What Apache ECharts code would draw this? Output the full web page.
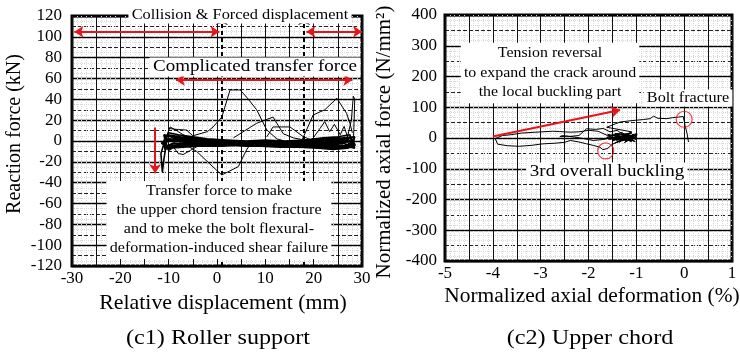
<!DOCTYPE html>
<html>
<head>
<meta charset="utf-8">
<script src="https://cdn.jsdelivr.net/npm/echarts@6/dist/echarts.min.js"></script>
<style>
html,body{margin:0;padding:0;background:#fff}
#chart{width:740px;height:352px}
</style>
</head>
<body>
<div id="chart"></div>
<script>
// (c1) roller support : relative displacement (mm) vs reaction force (kN)
var c1Cycles = [
  [-11,3],[-9,1],[-6,0],[-3,-1],[0,-2],[4,-2],[8,-3],[12,-3],[16,-3],[20,-4],[24,-4],[27,-5],[28,-3],
  [27,2],[24,1],[20,-1],[16,0],[12,-1],[8,-1],[4,0],[0,0],[-3,1],[-6,2],[-9,4],[-11,6],
  [-10.5,-4],[-8,-5],[-5,-4],[-2,-4],[2,-4],[6,-5],[10,-5],[14,-5],[18,-5],[22,-6],[25,-7],[28,-6],
  [28.5,4],[26,3],[23,2],[19,0],[15,-1],[11,-2],[7,-2],[3,-1],[-1,-1],[-4,0],[-7,1],[-10,2],[-11.5,-2],
  [-10,-7],[-7,-6],[-4,-5],[0,-3],[5,-3],[9,-4],[13,-4],[17,-4],[21,-5],[25,-6],[28,-4],
  [27.5,6],[25,4],[22,3],[18,1],[14,0],[10,1],[6,0],[2,1],[-2,2],[-5,4],[-8,6],[-10,8],[-11,0],
  [-10,-9],[-8,-3],[-5,-2],[-1,-2],[3,-3],[7,-3],[11,-3],[15,-3],[19,-3],[23,-3],[26,-4],[28.5,-7],
  [28,0],[25,-1],[21,-2],[17,-2],[13,-2],[9,-2],[5,-1],[1,-1],[-3,-1],[-6,-1],[-9,0],[-11,1],
  [-10.5,-5],[-9,-2],[-6,-3],[-2,-3],[3,-2],[8,-2],[13,-1],[18,-2],[22,-2],[26,-2],[28,-5],
  [27,-1],[24,-3],[20,-3],[16,-4],[12,-4],[8,-4],[4,-4],[0,-4],[-4,-3],[-7,-4],[-10,-6],[-11.2,-3],
  [-10.6,5],[-8,3],[-5,1],[-2,0],[2,-1],[6,-1],[10,-2],[14,-2],[18,-3],[22,-4],[26,-5],[28.3,-2],
  [27.8,3],[25,2],[21,0],[17,-1],[13,-3],[9,-3],[5,-2],[1,-2],[-2,-1],[-5,0],[-8,2],[-10.4,5],
  [-10.8,-8],[-9,-6],[-6,-5],[-3,-5],[1,-5],[5,-4],[9,-5],[13,-6],[17,-6],[21,-7],[24,-8],[27,-7],[28.6,-4],
  [28,1],[25,0],[22,-1],[19,-1],[15,-2],[11,-1],[7,0],[3,0],[-1,0],[-4,-2],[-7,-2],[-9.5,-4],[-11,-6],
  [-10.2,6],[-7.5,4],[-4.5,2],[-1.5,1],[2.5,0],[6.5,-2],[10.5,-3],[14.5,-4],[18.5,-4],[22.5,-5],[26.5,-6],[28.4,1]
];
var c1Peak = [[-10,12],[-8,11],[-6.3,10.5],[-5,5],[-2,9],[-0.8,13.5],[1,23],[2.7,49],[4.8,49],[6.5,40],[8.2,30],[10.3,10.6],[12.4,2],[14,0]];
var c1Trough = [[-9,-2],[-6,-5],[-4.2,-10],[-1.5,-22],[1,-32.6],[4.4,-24.6],[6.1,-8.6],[7.5,1]];
var c1LeftBumps = [[-10.5,4],[-9.7,13.5],[-8,9],[-7,6],[-6,4],[-9,-6],[-8,-12],[-7,-13],[-5.5,-9],[-4,-5],[-2,-3]];
var c1MidA = [[3.4,3],[8.2,17],[11.6,23],[13.7,7],[15.8,3],[18,1]];
var c1MidB = [[10.3,4],[11.6,13.5],[15.1,13.5],[17.9,4],[19,2]];
var c1RightA = [[17.5,0],[19.9,25],[22.3,30],[24.8,41],[26.8,26.6],[27.5,17],[28,8]];
var c1RightB = [[19,-3],[21.3,12],[22.3,18.6],[23.3,9],[24.3,16],[25.5,6],[26.3,14],[27,4],[27.8,20],[28.2,43],[28.5,40],[28.3,10],[28.2,-3]];
var c1Drop = [[-10.8,0],[-11.6,-12],[-11.3,-30],[-11,-18],[-10.6,-6],[-10.3,2]];
var c1DashX = [1, 18];
var c1ArrowTop = [[-29.5,105],[0.5,105]];
var c1ArrowTopRight = [[18.5,105],[30,105]];
var c1ArrowMid = [[-8.5,58.5],[28,58.5]];
var c1ArrowDown = [[-12.8,13],[-12.8,-31]];

// (c2) upper chord : normalized axial deformation (%) vs normalized axial force (N/mm2)
var c2Path = [
  [-1.3,5],[-1.1,15],[-1.0,-5],[-1.2,10],[-1.05,-10],[-1.3,12],[-1.0,0],[-1.4,-12],[-1.1,18],[-1.5,-5],[-1.2,14],[-1.6,8],
  [-1.8,22],[-2.0,25],[-2.2,20],[-2.4,19],[-2.6,21],[-2.75,22],[-3.1,19],[-3.4,16],[-3.6,11],[-3.8,8],[-3.95,-2],[-3.97,-6],
  [-3.9,-20],[-3.7,-25],[-3.45,-27],[-3.2,-24],[-2.95,-19],[-2.7,-17],[-2.5,-14],[-2.38,-8],[-2.2,-13],[-2.04,-19],[-1.9,-24],[-1.76,-30],[-1.7,-38],[-1.6,-34],[-1.5,-20],
  [-1.3,-8],[-1.05,12],[-1.25,-15],[-1.0,6],[-1.45,15],[-1.1,-12],[-1.35,4],[-1.0,-3],[-1.5,10],[-1.2,-10],[-1.0,14],[-1.4,-6],[-1.15,8],[-1.55,-2],[-1.05,-8],
  [-1.6,12],[-1.35,-14],[-1.15,16],[-1.5,-10],[-1.25,6],[-1.58,-4],[-0.98,10],[-1.45,-16],[-1.1,4],[-1.62,2],[-1.3,18],[-1.02,-12],[-1.4,8],[-1.2,-4],
  [-1.5,2],[-1.7,-5],[-1.9,-8],[-2.1,-2],[-2.3,3],[-2.45,6],[-2.6,4],[-2.55,8],[-2.4,5],[-2.2,8],[-2.04,30],[-1.85,28],[-1.69,31],[-1.55,20],[-1.4,25],[-1.25,8],[-1.1,20],
  [-1.62,35],[-1.34,52],[-1.07,57],[-0.85,60],[-0.71,63],[-0.64,71],[-0.55,64],[-0.36,63],[-0.25,66],[-0.12,68],[-0.02,70],[0.02,40],[0.06,15],[0.09,-13]
];
var c2Circles = [[0,61],[-1.64,-42]];
var c2Arrow = [[-4,5],[-1.34,91]];

var serif = 'Liberation Serif';
var red = '#e8141a';

function xAx(grid, min, max, step) {
  return {
    type: 'value', gridIndex: grid, min: min, max: max, interval: step,
    axisLine: {show: false}, axisTick: {show: false},
    axisLabel: {
      color: '#000', fontFamily: serif, fontSize: 17, margin: 4,
      formatter: function (v) {
        return Math.abs(v / (step * 2) - Math.round(v / (step * 2))) < 1e-6 ? String(v) : '';
      }
    },
    splitLine: {show: true, lineStyle: {color: '#111', width: 1}},
    minorTick: {show: false, splitNumber: 5},
    minorSplitLine: {show: true, lineStyle: {color: '#d9d9d9', width: 1, type: 'dotted'}}
  };
}
function yDash(grid, min, max, step, minorN) {
  return {
    type: 'value', gridIndex: grid, position: 'left', min: min, max: max, interval: step,
    axisLine: {show: false}, axisTick: {show: false}, axisLabel: {show: false},
    splitLine: {show: true, lineStyle: {color: '#222', width: 1, type: [4, 2]}},
    minorTick: {show: false, splitNumber: minorN},
    minorSplitLine: {show: true, lineStyle: {color: '#d9d9d9', width: 1, type: 'dotted'}}
  };
}
function yMain(grid, min, max, step, gap) {
  return {
    type: 'value', gridIndex: grid, position: 'left', min: min, max: max, interval: step,
    axisLine: {show: false}, axisTick: {show: false},
    axisLabel: {color: '#000', fontFamily: serif, fontSize: 17, margin: gap},
    splitLine: {show: true, lineStyle: {color: '#000', width: 1.3}}
  };
}
function line(data, xi, yi, w) {
  return {
    type: 'line', xAxisIndex: xi, yAxisIndex: yi, data: data, showSymbol: false,
    lineStyle: {color: '#000', width: w || 1}, z: 3
  };
}
function seg(p, head, tail) {
  return [
    {coord: p[0], symbol: head, lineStyle: {color: red, width: 2, type: 'solid'}},
    {coord: p[1], symbol: tail}
  ];
}
function txt(x, y, s, size, sx, box, lh) {
  var st = {
    text: s, fontFamily: serif, fontSize: size, fill: '#000',
    align: 'center', verticalAlign: 'middle'
  };
  if (lh) st.lineHeight = lh;
  if (box) { st.backgroundColor = '#fff'; st.padding = [1, 3]; }
  return {type: 'text', x: x, y: y, scaleX: sx, z: 100, style: st};
}
function vtxt(x, y, s, size) {
  return {type: 'text', x: x, y: y, rotation: Math.PI / 2, z: 100,
    style: {text: s, fontFamily: serif, fontSize: size, fill: '#000', align: 'center', verticalAlign: 'middle'}};
}

var chart = echarts.init(document.getElementById('chart'));
var cycles = line(c1Cycles, 0, 1, 1.6);
cycles.markLine = {
  silent: true, symbolSize: 9, label: {show: false},
  lineStyle: {color: '#000', width: 2, type: [4, 3]},
  data: [
    {xAxis: c1DashX[0], symbol: 'none'},
    {xAxis: c1DashX[1], symbol: 'none'},
    seg(c1ArrowTop, 'arrow', 'arrow'),
    seg(c1ArrowTopRight, 'arrow', 'arrow'),
    seg(c1ArrowMid, 'arrow', 'arrow'),
    seg(c1ArrowDown, 'none', 'arrow')
  ]
};
var upper = line(c2Path, 1, 3, 1);
upper.markLine = {
  silent: true, symbolSize: 9, label: {show: false},
  data: [seg(c2Arrow, 'none', 'arrow')]
};

chart.setOption({
  animation: false,
  grid: [
    {left: 72, top: 16, width: 290, height: 250, show: true, borderColor: '#000', borderWidth: 3, backgroundColor: '#fff'},
    {left: 445, top: 15, width: 287, height: 246, show: true, borderColor: '#000', borderWidth: 3, backgroundColor: '#fff'}
  ],
  xAxis: [xAx(0, -30, 30, 5), xAx(1, -5, 1, 0.5)],
  yAxis: [
    yDash(0, -120, 120, 10, 2), yMain(0, -120, 120, 20, 10),
    yDash(1, -400, 400, 50, 3), yMain(1, -400, 400, 100, 8)
  ],
  series: [
    cycles,
    line(c1Peak, 0, 1), line(c1Trough, 0, 1), line(c1LeftBumps, 0, 1),
    line(c1MidA, 0, 1), line(c1MidB, 0, 1), line(c1RightA, 0, 1),
    line(c1RightB, 0, 1), line(c1Drop, 0, 1, 1.6),
    upper,
    {
      type: 'scatter', xAxisIndex: 1, yAxisIndex: 3, data: c2Circles,
      symbol: 'circle', symbolSize: 16, z: 4,
      itemStyle: {color: 'rgba(0,0,0,0)', borderColor: red, borderWidth: 1.2}
    }
  ],
  graphic: [
    txt(240, 15, 'Collision & Forced displacement', 15, 1.09, true),
    txt(255, 67, 'Complicated transfer force', 17, 1.12, true),
    txt(219, 220, 'Transfer force to make\nthe upper chord tension fracture\nand to meke the bolt flexural-\ndeformation-induced shear failure', 15, 1.07, true, 19),
    txt(550, 73, 'Tension reversal\nto expand the crack around\nthe local buckling part', 15, 1.06, true, 19.5),
    txt(688, 98, 'Bolt fracture', 15, 1.08, true),
    txt(607, 172, '3rd overall buckling', 17, 1.12, true),
    vtxt(15, 134, 'Reaction force (kN)', 20),
    vtxt(384, 142, 'Normalized axial force (N/mm\u00b2)', 21),
    txt(223, 303, 'Relative displacement (mm)', 21, 1.04),
    txt(592, 297, 'Normalized axial deformation (%)', 20, 1.07),
    txt(218, 338, '(c1) Roller support', 22, 1.1),
    txt(590, 338, '(c2) Upper chord', 22, 1.1)
  ]
});
</script>
</body>
</html>
